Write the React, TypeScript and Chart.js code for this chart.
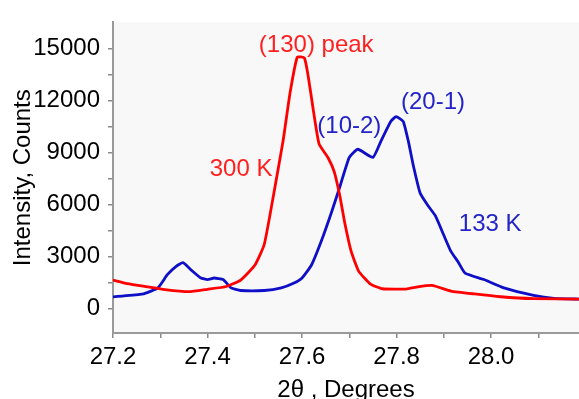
import React, { useEffect, useRef } from 'react';
import { Chart, registerables } from 'chart.js';

Chart.register(...registerables);

// 300 K curve
const redAngles = [27.2, 27.23, 27.27, 27.31, 27.36, 27.4, 27.44, 27.47, 27.5, 27.52, 27.54, 27.56, 27.575, 27.59, 27.605, 27.613, 27.623, 27.636, 27.655, 27.668, 27.68, 27.69, 27.704, 27.72, 27.745, 27.77, 27.82, 27.845, 27.875, 27.915, 27.965, 28.02, 28.09, 28.19];
const redCounts = [1650, 1450, 1270, 1100, 980, 1120, 1280, 1650, 2500, 3700, 6600, 9700, 12500, 14500, 14450, 13400, 11600, 9500, 8700, 7900, 6500, 5000, 3300, 2150, 1420, 1150, 1130, 1260, 1340, 1020, 850, 690, 580, 550];

// 133 K curve
const blueAngles = [27.2, 27.22, 27.265, 27.295, 27.315, 27.333, 27.348, 27.365, 27.386, 27.4, 27.414, 27.433, 27.45, 27.47, 27.52, 27.556, 27.583, 27.6, 27.62, 27.64, 27.662, 27.68, 27.7, 27.718, 27.75, 27.767, 27.788, 27.799, 27.814, 27.825, 27.836, 27.85, 27.867, 27.882, 27.9, 27.915, 27.93, 27.945, 27.985, 28.027, 28.09, 28.133, 28.19];
const blueCounts = [680, 730, 860, 1200, 1960, 2430, 2650, 2240, 1770, 1680, 1770, 1680, 1200, 1050, 1050, 1200, 1480, 1770, 2520, 3840, 5530, 7030, 8720, 9190, 8720, 9660, 10800, 11070, 10800, 9640, 8180, 6650, 5920, 5360, 4230, 3300, 2710, 2050, 1680, 1200, 770, 600, 550];

const xTickValues = [27.2, 27.3, 27.4, 27.5, 27.6, 27.7, 27.8, 27.9, 28.0, 28.1];
const yTickValues = [0, 1500, 3000, 4500, 6000, 7500, 9000, 10500, 12000, 13500, 15000];

const labelTexts = ['(130) peak', '300 K', '(10-2)', '(20-1)', '133 K'];
const labelAngles = [27.63, 27.471, 27.7, 27.877, 27.998];
const labelCounts = [15170, 8010, 10490, 11900, 4850];
const labelColors = ['#ff1f1f', '#ff1f1f', '#2323c8', '#2323c8', '#2323c8'];

const RED = 'rgb(255,0,0)';
const BLUE = 'rgb(15,15,200)';
const FONT = '"Liberation Sans", Arial, sans-serif';

export default function App() {
  const ref = useRef<HTMLCanvasElement | null>(null);

  useEffect(() => {
    if (!ref.current) return;
    const bgPlugin = {
      id: 'plotBg',
      beforeDraw(chart: any) {
        const { ctx, chartArea } = chart;
        ctx.save();
        ctx.fillStyle = '#f8f8f8';
        ctx.fillRect(chartArea.left, chartArea.top, chartArea.right - chartArea.left, chartArea.bottom - chartArea.top);
        ctx.restore();
      },
    };
    const labelPlugin = {
      id: 'peakLabels',
      afterDatasetsDraw(chart: any) {
        const { ctx } = chart;
        const xs = chart.scales.x;
        const ys = chart.scales.y;
        ctx.save();
        ctx.font = `24px ${FONT}`;
        ctx.textAlign = 'center';
        ctx.textBaseline = 'middle';
        labelTexts.forEach((t, i) => {
          ctx.fillStyle = labelColors[i];
          ctx.fillText(t, xs.getPixelForValue(labelAngles[i]), ys.getPixelForValue(labelCounts[i]));
        });
        ctx.restore();
      },
    };
    const chart = new Chart(ref.current, {
      type: 'line',
      data: {
        datasets: [
          {
            label: '300 K',
            data: redAngles.map((x, i) => ({ x, y: redCounts[i] })),
            borderColor: RED,
            borderWidth: 2.8,
            pointRadius: 0,
            tension: 0.15,
            fill: false,
          },
          {
            label: '133 K',
            data: blueAngles.map((x, i) => ({ x, y: blueCounts[i] })),
            borderColor: BLUE,
            borderWidth: 2.8,
            pointRadius: 0,
            tension: 0.15,
            fill: false,
          },
        ],
      },
      options: {
        responsive: false,
        animation: false,
        layout: { padding: { top: 15, left: 0, right: 0, bottom: 0 } },
        plugins: { legend: { display: false }, tooltip: { enabled: false } },
        scales: {
          x: {
            type: 'linear',
            min: 27.2,
            max: 28.186,
            afterBuildTicks: (s: any) => {
              s.ticks = xTickValues.map((v) => ({ value: v }));
            },
            afterFit: (s: any) => {
              s.height = 66;
            },
            grid: { drawOnChartArea: false, drawTicks: true, tickLength: 5, color: '#8a8a8a', lineWidth: 1.5 },
            border: { display: true, color: '#9a9a9a', width: 2 },
            ticks: {
              autoSkip: false,
              maxRotation: 0,
              padding: 5,
              color: '#000',
              font: { family: FONT, size: 24 },
              callback: (v: any) => (Math.round(Number(v) * 10) % 2 === 0 ? Number(v).toFixed(1) : ''),
            },
            title: {
              display: true,
              text: '2θ , Degrees',
              color: '#000',
              font: { family: FONT, size: 24, lineHeight: 1 },
              padding: { top: 0, bottom: -3 },
            },
          },
          y: {
            type: 'linear',
            min: -1400,
            max: 16500,
            afterBuildTicks: (s: any) => {
              s.ticks = yTickValues.map((v) => ({ value: v }));
            },
            afterFit: (s: any) => {
              s.width = 113;
            },
            grid: { drawOnChartArea: false, drawTicks: true, tickLength: 5, color: '#8a8a8a', lineWidth: 1.5 },
            border: { display: true, color: '#9a9a9a', width: 2 },
            ticks: {
              autoSkip: false,
              padding: 8,
              color: '#000',
              font: { family: FONT, size: 24 },
              callback: (v: any) => (Number(v) % 3000 === 0 ? String(v) : ''),
            },
            title: {
              display: true,
              text: 'Intensity, Counts',
              color: '#000',
              font: { family: FONT, size: 24, lineHeight: 1 },
              padding: { top: 11, bottom: 0 },
            },
          },
        },
      },
      plugins: [bgPlugin, labelPlugin],
    });
    return () => chart.destroy();
  }, []);

  return (
    <div style={{ position: 'absolute', left: 0, top: 0, width: 579, height: 399, background: '#fff' }}>
      <canvas ref={ref} width={579} height={399} style={{ display: 'block' }} />
    </div>
  );
}
